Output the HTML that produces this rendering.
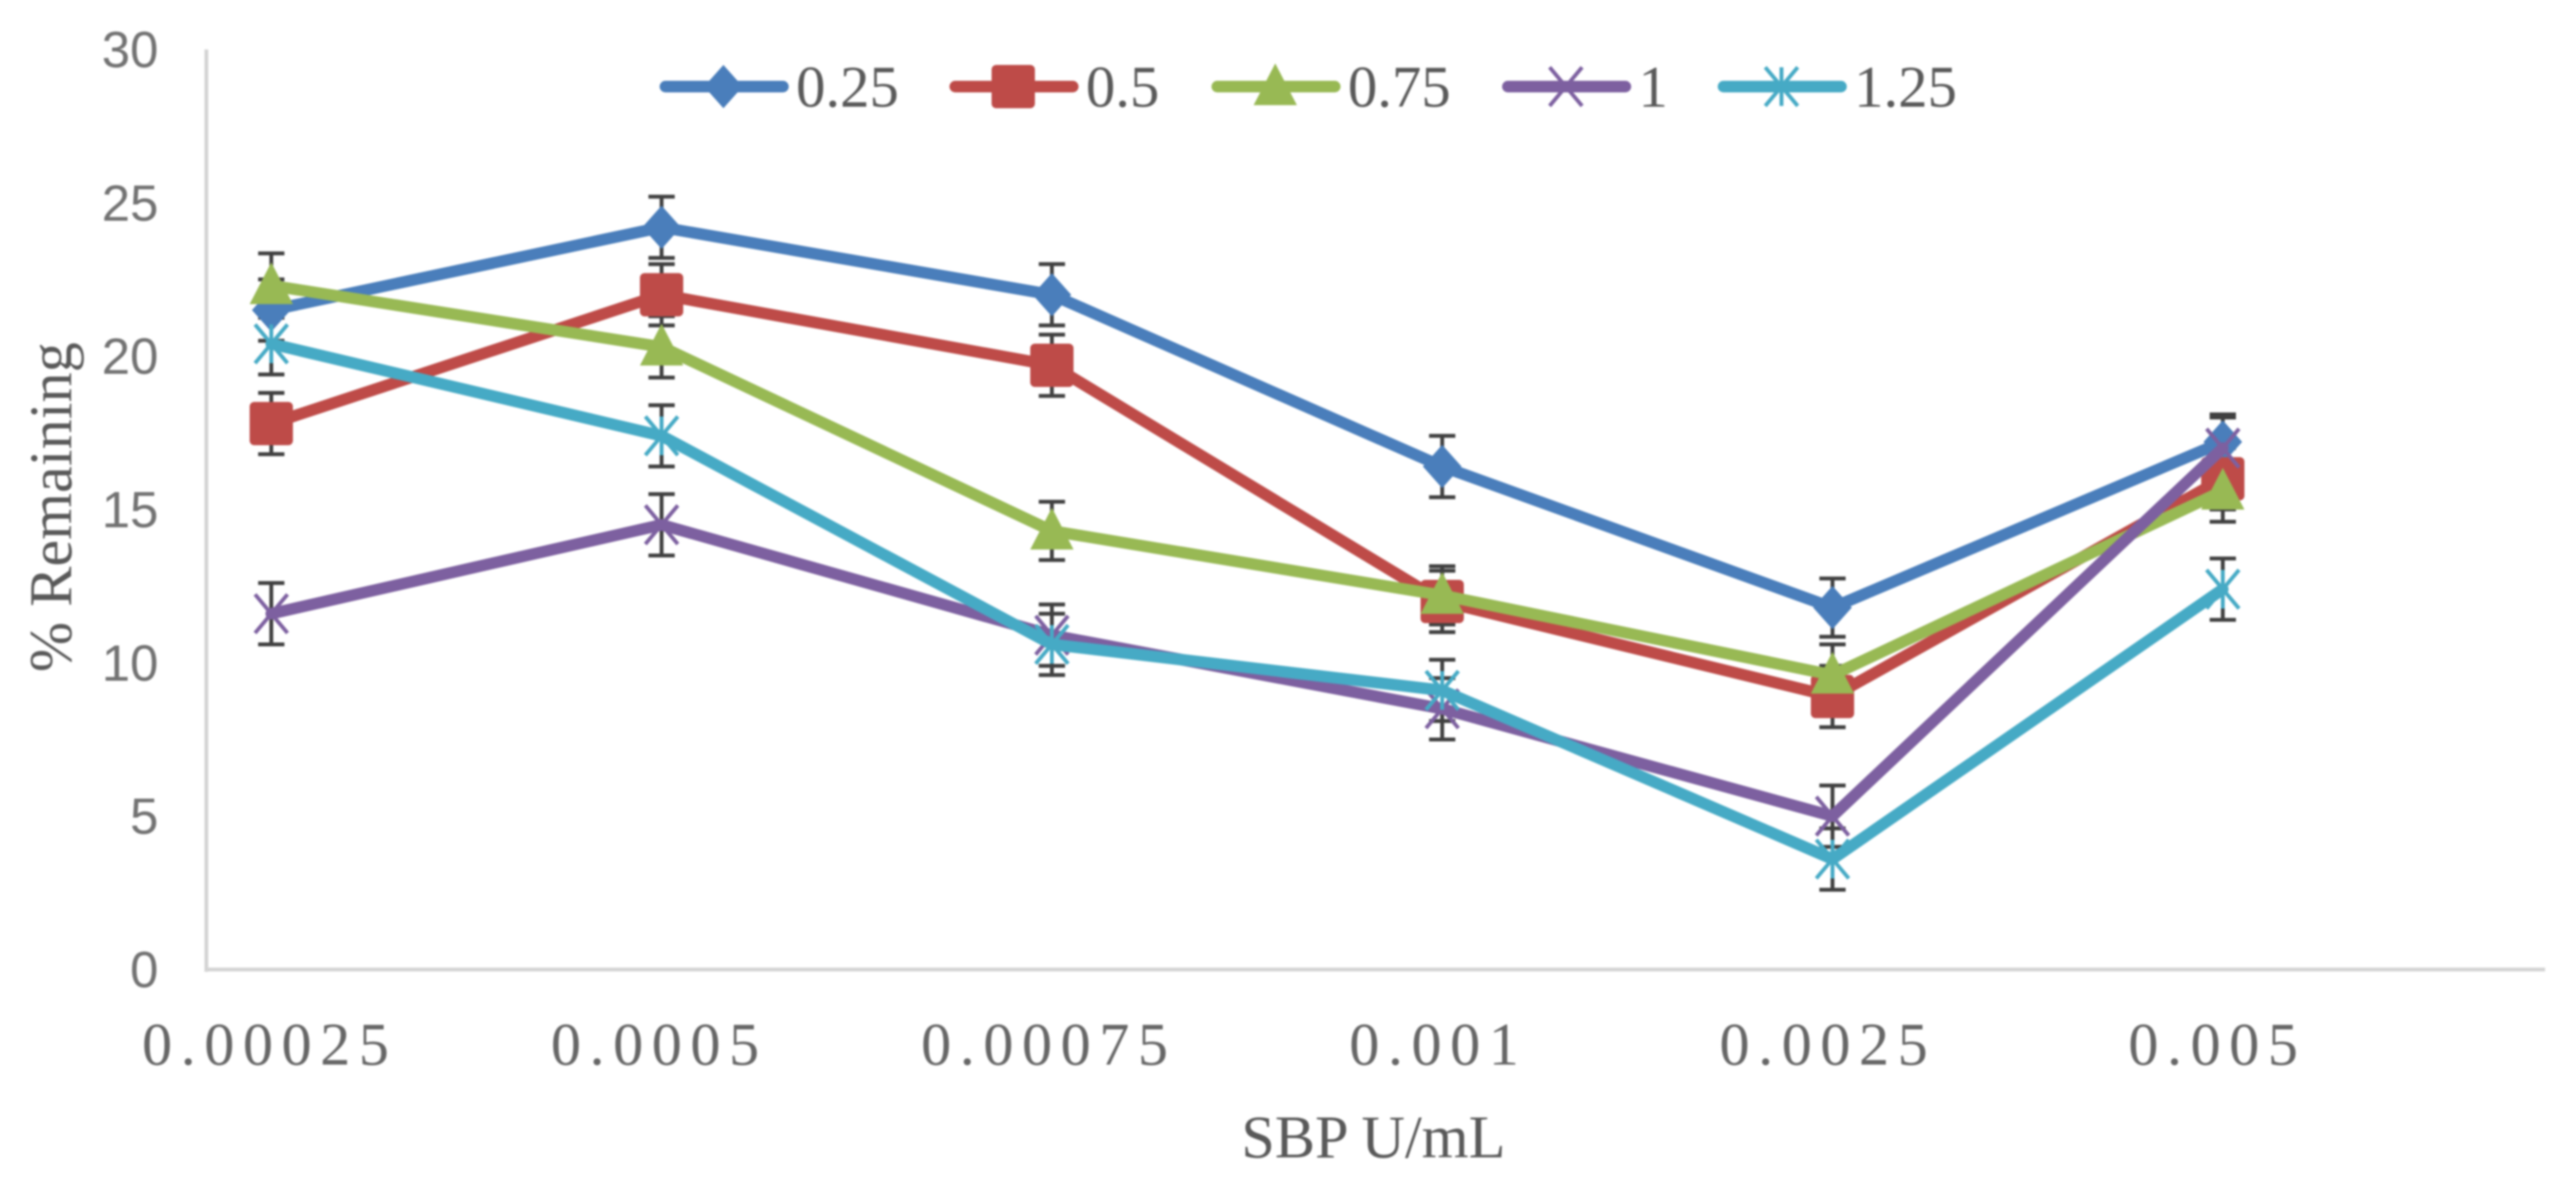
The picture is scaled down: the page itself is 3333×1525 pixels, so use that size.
<!DOCTYPE html>
<html lang="en">
<head>
<meta charset="utf-8">
<title>% Remaining vs SBP U/mL</title>
<style>
  html, body { margin: 0; padding: 0; background: #fff; }
  #chart { display: block; width: 3333px; height: 1525px; background: #fff; }
  .tick-y { font-family: "Liberation Sans", sans-serif; font-size: 66px; fill: #727272; text-anchor: end; }
  .tick-x { font-family: "Liberation Serif", serif; font-size: 78px; fill: #666; text-anchor: middle; letter-spacing: 11px; }
  .title { font-family: "Liberation Serif", serif; font-size: 78px; fill: #595959; text-anchor: middle; }
  .legend-text { font-family: "Liberation Serif", serif; font-size: 76px; fill: #595959; }
</style>
</head>
<body>
<svg id="chart" xmlns="http://www.w3.org/2000/svg" width="3333" height="1525" viewBox="0 0 3333 1525">
  <g id="blur-root" style="filter: blur(1.2px)">
    <line x1="267" y1="64" x2="267" y2="1257" stroke="#d4d4d4" stroke-width="5"/>
    <line x1="265" y1="1254" x2="3293" y2="1254" stroke="#d4d4d4" stroke-width="5"/>
    <g id="y-ticks"></g>
    <g id="x-ticks"></g>
    <text class="title" transform="translate(92 656) rotate(-90)">% Remaining</text>
    <text class="title" x="1777" y="1497">SBP U/mL</text>
    <g id="errors"></g>
    <g id="series"></g>
    <g id="legend"></g>
  </g>
</svg>
<script>
const categories = ["0.00025", "0.0005", "0.00075", "0.001", "0.0025", "0.005"];
const yTicks = [0, 5, 10, 15, 20, 25, 30];
const seriesNames = ["0.25", "0.5", "0.75", "1", "1.25"];
const values025 = [21.5, 24.2, 22.0, 16.4, 11.8, 17.2];
const values05 = [17.8, 22.0, 19.7, 12.0, 8.9, 16.0];
const values075 = [22.3, 20.3, 14.3, 12.2, 9.6, 15.6];
const values1 = [11.6, 14.5, 10.9, 8.5, 5.0, 17.0];
const values125 = [20.4, 17.4, 10.6, 9.1, 3.6, 12.4];
const errors025 = [1.0, 1.0, 1.0, 1.0, 0.95, 0.9];
const errors05 = [1.0, 1.0, 1.0, 1.0, 1.0, 1.0];
const errors075 = [1.05, 1.0, 0.95, 0.95, 1.0, 1.0];
const errors1 = [1.0, 1.0, 1.0, 1.0, 1.0, 1.0];
const errors125 = [1.0, 1.0, 1.0, 1.0, 1.0, 1.0];

const allValues = [values025, values05, values075, values1, values125];
const allErrors = [errors025, errors05, errors075, errors1, errors125];
const colors = ["#4a7ebb", "#be4b48", "#98b954", "#7d60a0", "#46aac5"];
const markerKinds = ["diamond", "square", "triangle", "x", "star"];
const legendLineStart = [855, 1230, 1569, 1945, 2224];
const SVGNS = "http://www.w3.org/2000/svg";

function xScale(i) { return 351 + 505 * i; }
function yScale(v) { return 1254 - v * 39.67; }

function make(tag, attrs, parent) {
  const el = document.createElementNS(SVGNS, tag);
  for (const k in attrs) el.setAttribute(k, attrs[k]);
  parent.appendChild(el);
  return el;
}

function drawMarker(parent, kind, cx, cy, color) {
  const g = make("g", {}, parent);
  if (kind === "diamond") {
    make("polygon", { points: [cx, cy - 28, cx + 25, cy, cx, cy + 28, cx - 25, cy].join(" "), fill: color }, g);
  } else if (kind === "square") {
    make("rect", { x: cx - 28, y: cy - 28, width: 56, height: 56, rx: 6, fill: color }, g);
  } else if (kind === "triangle") {
    make("polygon", { points: [cx, cy - 30, cx + 28, cy + 24, cx - 28, cy + 24].join(" "), fill: color }, g);
  } else {
    const d = 21;
    make("line", { x1: cx - d, y1: cy - d - 4, x2: cx + d, y2: cy + d + 4, stroke: color, "stroke-width": 5 }, g);
    make("line", { x1: cx - d, y1: cy + d + 4, x2: cx + d, y2: cy - d - 4, stroke: color, "stroke-width": 5 }, g);
    if (kind === "star") {
      make("line", { x1: cx, y1: cy - 25, x2: cx, y2: cy + 25, stroke: color, "stroke-width": 5 }, g);
    }
  }
  return g;
}

const yTickGroup = document.getElementById("y-ticks");
yTicks.forEach(function (t) {
  const el = make("text", { class: "tick-y", x: 205, y: yScale(t) + 23 }, yTickGroup);
  el.textContent = String(t);
  
  
});

const xTickGroup = document.getElementById("x-ticks");
categories.forEach(function (c, i) {
  const el = make("text", { class: "tick-x", x: xScale(i) - 2 - i, y: 1377 }, xTickGroup);
  el.textContent = c;
  
  
});

const errorGroup = document.getElementById("errors");
allValues.forEach(function (vals, s) {
  vals.forEach(function (v, i) {
    const x = xScale(i);
    const hi = yScale(v + allErrors[s][i]);
    const lo = yScale(v - allErrors[s][i]);
    const bar = make("path", {
      d: "M" + (x - 17) + " " + hi + "H" + (x + 17) + "M" + x + " " + hi + "V" + lo + "M" + (x - 17) + " " + lo + "H" + (x + 17),
      fill: "none", stroke: "#404040", "stroke-width": 5
    }, errorGroup);
    
    
  });
});

const seriesGroup = document.getElementById("series");
allValues.forEach(function (vals, s) {
  const g = make("g", {}, seriesGroup);
  
  
  const line = make("polyline", {
    points: vals.map(function (v, i) { return xScale(i) + "," + yScale(v); }).join(" "),
    fill: "none", stroke: colors[s], "stroke-width": 15, "stroke-linejoin": "round", "stroke-linecap": "round"
  }, g);
  
  
  vals.forEach(function (v, i) {
    const m = drawMarker(g, markerKinds[s], xScale(i), yScale(v), colors[s]);
    
    
  });
});

const legendGroup = document.getElementById("legend");
seriesNames.forEach(function (name, s) {
  const x0 = legendLineStart[s];
  const entry = make("g", {}, legendGroup);
  
  
  make("line", { x1: x0 + 6, y1: 112, x2: x0 + 158, y2: 112, stroke: colors[s], "stroke-width": 15, "stroke-linecap": "round" }, entry);
  drawMarker(entry, markerKinds[s], x0 + 81, 112, colors[s]);
  const label = make("text", { class: "legend-text", x: x0 + 175, y: 138 }, entry);
  label.textContent = name;
  
  
});
</script>
</body>
</html>
